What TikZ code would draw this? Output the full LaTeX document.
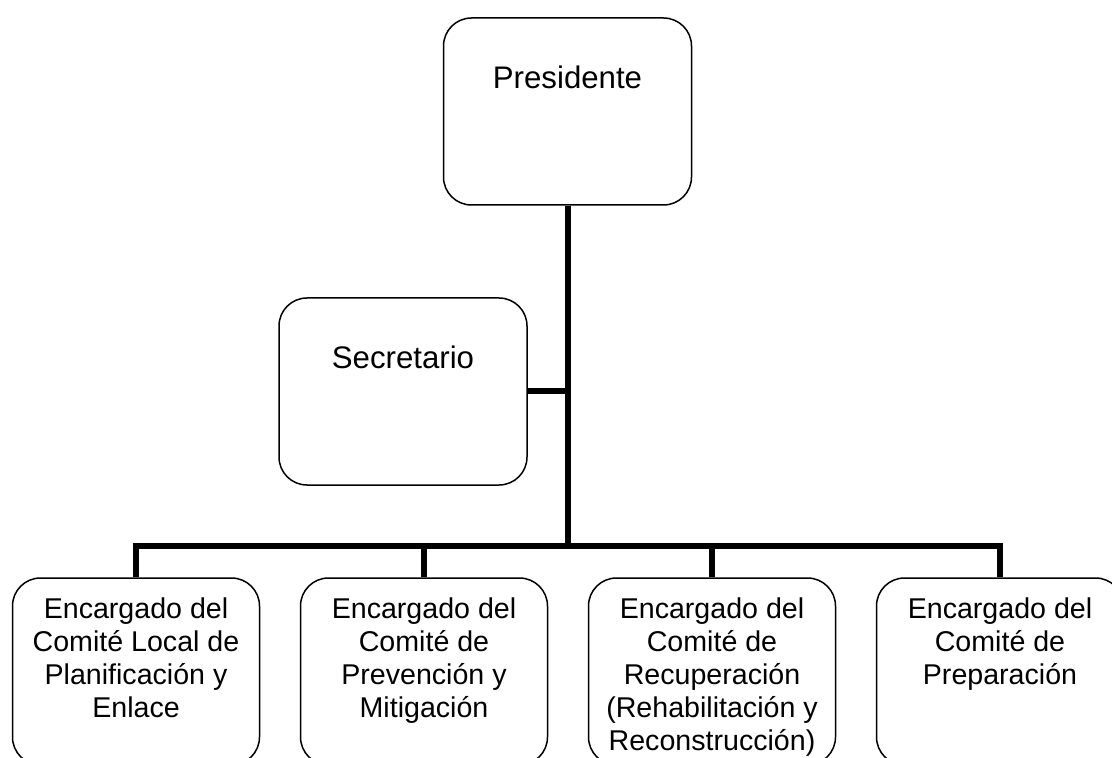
\documentclass[tikz,border=0pt]{standalone}
\usepackage{fontspec}
\setmainfont{Liberation Sans}
\usetikzlibrary{positioning}
\begin{document}
\begin{tikzpicture}[x=0.5pt,y=-0.5pt,
	caja/.style={draw,line width=0.75pt,rounded corners=14pt,minimum width=124pt,minimum height=93.5pt,inner sep=0pt},
	cajab/.style={caja,minimum width=123.5pt},
	titulo/.style={inner sep=0pt,font=\fontsize{15.6}{18}\selectfont},
	texto/.style={inner sep=0pt,align=center,font=\fontsize{14.3}{16.5}\selectfont},
	linea/.style={line width=3pt}]
		\useasboundingbox (0,0) rectangle (1112,758);
		\clip (0,0) rectangle (1112,758);
		% Presidente
		\node[caja] (pres) at (567.5,111.5) {};
		\node[titulo,below=24pt of pres.north] (tpres) {Presidente};
		% Secretario
		\node[caja] (sec) at (403,391.5) {};
		\node[titulo,below=24pt of sec.north] (tsec) {Secretario};
		% Encargados de comite
		\node[cajab] (enc1) at (136,671.5) {};
		\node[cajab] (enc2) at (424,671.5) {};
		\node[cajab] (enc3) at (712,671.5) {};
		\node[cajab] (enc4) at (1000,671.5) {};
		\node[texto,below=10pt of enc1.north] (tenc1) {Encargado del\\Comité Local de\\Planificación y\\Enlace};
		\node[texto,below=10pt of enc2.north] (tenc2) {Encargado del\\Comité de\\Prevención y\\Mitigación};
		\node[texto,below=10pt of enc3.north] (tenc3) {Encargado del\\Comité de\\Recuperación\\(Rehabilitación y\\Reconstrucción)};
		\node[texto,below=10pt of enc4.north] (tenc4) {Encargado del\\Comité de\\Preparación};
		% Lineas
		\coordinate (bus) at (567.5,546);
		\draw[linea] (pres.south) -- (bus);
		\draw[linea] (sec.east) -- (sec.east -| bus);
		\draw[linea] (enc1.north) |- (bus) -| (enc4.north);
		\draw[linea] (enc2.north) -- (enc2.north |- bus);
		\draw[linea] (enc3.north) -- (enc3.north |- bus);
\end{tikzpicture}
\end{document}
